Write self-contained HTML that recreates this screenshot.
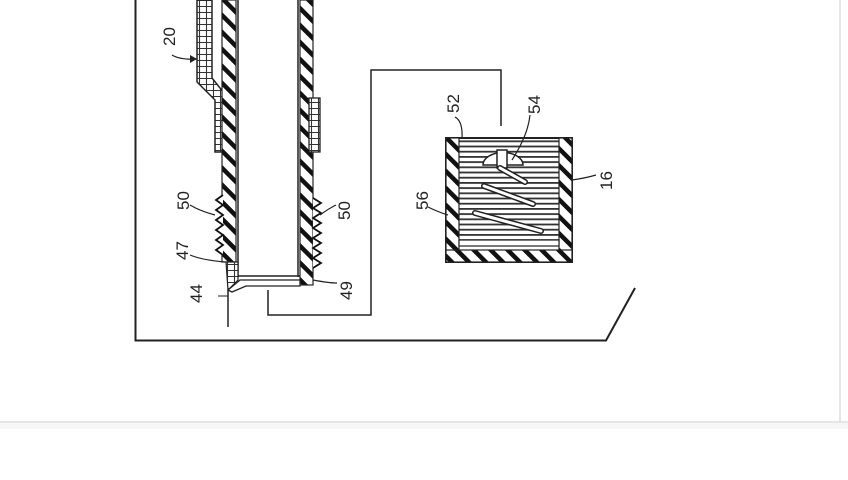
<!DOCTYPE html>
<html><head><meta charset="utf-8"><style>
html,body{margin:0;padding:0;background:#fff;width:848px;height:480px;overflow:hidden}
svg{display:block}
text{font-family:"Liberation Sans",sans-serif;font-size:17px;fill:#222}
</style></head><body>
<svg width="848" height="480" viewBox="0 0 848 480" xmlns="http://www.w3.org/2000/svg">
<defs>
<pattern id="h" width="12" height="12" patternUnits="userSpaceOnUse" patternTransform="rotate(-45)">
<rect width="12" height="12" fill="#fff"/><rect width="4.5" height="12" fill="#111"/>
</pattern>
<pattern id="lay" width="7" height="6" patternUnits="userSpaceOnUse">
<rect width="7" height="6" fill="#fff"/><path d="M0 0.5H7M3.5 0V6" stroke="#333" stroke-width="1.1"/>
</pattern>
<pattern id="hl" width="10" height="5.2" patternUnits="userSpaceOnUse">
<rect width="10" height="5.2" fill="#fff"/><rect y="0" width="10" height="1.8" fill="#333"/>
</pattern>
</defs>
<rect width="848" height="480" fill="#fff"/>
<line x1="840" y1="0" x2="840" y2="422" stroke="#ddd" stroke-width="1.5"/>
<line x1="0" y1="422" x2="848" y2="422" stroke="#ddd" stroke-width="1.5"/>
<rect x="0" y="423" width="848" height="6" fill="#f6f6f6"/>

<path d="M135.5 0V340.5H606L635 288" fill="none" stroke="#222" stroke-width="2"/>

<path d="M197 0H212V78L228 98V152H215V100L197 82Z" fill="url(#lay)" stroke="#222" stroke-width="1.5"/>
<rect x="222" y="0" width="14" height="262" fill="url(#h)" stroke="#222" stroke-width="1.2"/>
<path d="M223 195l-7 5 7 5-7 5 7 5-7 5 7 5-7 5 7 5-7 5 7 5-7 5 7 5" fill="#fff" stroke="#111" stroke-width="1.8"/>
<line x1="238" y1="0" x2="238" y2="277" stroke="#222" stroke-width="1.5"/>
<line x1="298" y1="0" x2="298" y2="277" stroke="#222" stroke-width="1.5"/>
<line x1="238" y1="276" x2="300" y2="276" stroke="#222" stroke-width="1.5"/>
<rect x="300" y="0" width="13" height="285" fill="url(#h)" stroke="#222" stroke-width="1.2"/>
<rect x="309" y="98" width="11" height="54" fill="url(#lay)" stroke="#222" stroke-width="1.3"/>
<path d="M313 198l8 5-8 5 8 5-8 5 8 5-8 5 8 5-8 5 8 5-8 5 8 5-8 5 8 5-8 5" fill="#fff" stroke="#111" stroke-width="1.8"/>
<path d="M226 262H238V280L228 290Z" fill="url(#lay)" stroke="#222" stroke-width="1.2"/>
<path d="M228 290L240 280H300V286H246L232 292Z" fill="#fff" stroke="#222" stroke-width="1.3"/>
<line x1="228" y1="290" x2="228" y2="327" stroke="#222" stroke-width="1.5"/>
<line x1="218" y1="296" x2="228" y2="296" stroke="#222" stroke-width="1"/>
<path d="M268 290V315H371V70H501V126" fill="none" stroke="#222" stroke-width="1.5"/>

<rect x="446" y="138" width="126" height="124" fill="url(#hl)" stroke="#222" stroke-width="2"/>
<rect x="446" y="138" width="13" height="124" fill="url(#h)" stroke="#222" stroke-width="1.2"/>
<rect x="559" y="138" width="13" height="124" fill="url(#h)" stroke="#222" stroke-width="1.2"/>
<rect x="446" y="250" width="126" height="12" fill="url(#h)" stroke="#222" stroke-width="1.2"/>
<rect x="459" y="240" width="100" height="6" fill="#fff" stroke="#222" stroke-width="1.2"/>
<path d="M483 165a16 10 0 0 1 40 0Z" fill="#fff" stroke="#222" stroke-width="1.5"/>
<rect x="497" y="150" width="10" height="18" fill="#fff" stroke="#222" stroke-width="1.5"/>
<g stroke="#222" stroke-width="6" stroke-linecap="round"><line x1="500" y1="168" x2="525" y2="182"/><line x1="484" y1="186" x2="533" y2="204"/><line x1="475" y1="213" x2="541" y2="231"/></g>
<g stroke="#fff" stroke-width="3" stroke-linecap="round"><line x1="500" y1="168" x2="525" y2="182"/><line x1="484" y1="186" x2="533" y2="204"/><line x1="475" y1="213" x2="541" y2="231"/></g>

<g fill="none" stroke="#222" stroke-width="1.2">
<path d="M172 55q8 5 25 4"/><path d="M190 205q10 6 25 10"/><path d="M190 255q12 5 35 7"/>
<path d="M336 205q-8 4 -16 10"/><path d="M337 283q-8 0 -24 -3"/>
<path d="M455 117q8 4 7 22"/><path d="M530 115q-2 20 -18 45"/><path d="M428 207q10 5 20 8"/><path d="M596 175q-10 3 -24 5"/>
</g>
<polygon points="197,59 190,55 190,63" fill="#222"/>

<g>
<text transform="translate(175 46) rotate(-90)">20</text>
<text transform="translate(189 210) rotate(-90)">50</text>
<text transform="translate(188 260) rotate(-90)">47</text>
<text transform="translate(202 303) rotate(-90)">44</text>
<text transform="translate(350 220) rotate(-90)">50</text>
<text transform="translate(352 300) rotate(-90)">49</text>
<text transform="translate(459 113) rotate(-90)">52</text>
<text transform="translate(540 114) rotate(-90)">54</text>
<text transform="translate(428 210) rotate(-90)">56</text>
<text transform="translate(612 190) rotate(-90)">16</text>
</g>
</svg>
</body></html>
